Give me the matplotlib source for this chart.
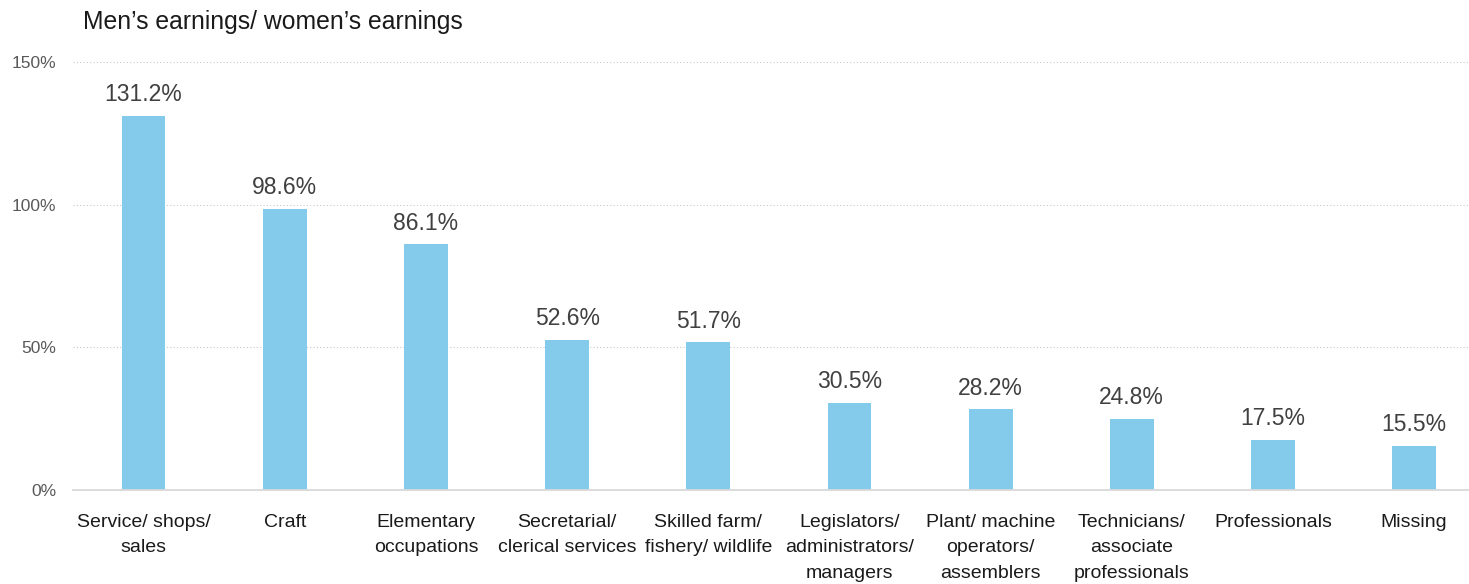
import matplotlib.pyplot as plt
import numpy as np
from matplotlib.ticker import MultipleLocator, FuncFormatter

categories = ["Service/ shops/\nsales", "Craft", "Elementary\noccupations",
              "Secretarial/\nclerical services", "Skilled farm/\nfishery/ wildlife",
              "Legislators/\nadministrators/\nmanagers", "Plant/ machine\noperators/\nassemblers",
              "Technicians/\nassociate\nprofessionals", "Professionals", "Missing"]
ratio = [131.2, 98.6, 86.1, 52.6, 51.7, 30.5, 28.2, 24.8, 17.5, 15.5]

plt.rcParams['font.family'] = ['Liberation Sans', 'DejaVu Sans']

fig = plt.figure(figsize=(14.69, 5.84), dpi=100)
ax = fig.add_axes([0.0497, 0.161, 0.961, 0.733])

x = np.arange(len(categories))
ax.bar(x, ratio, width=0.31, color='#84CBEB', zorder=2)

# value labels above each bar
for xi, v in zip(x, ratio):
    ax.annotate(f"{v:.1f}%", (xi, v), xytext=(0, 7), textcoords='offset points',
                ha='center', va='bottom', fontsize=16.5, color='#404040')

ax.set_xlim(-0.5, len(categories) - 0.5)
ax.set_ylim(0, 150)
ax.yaxis.set_major_locator(MultipleLocator(50))
ax.yaxis.set_major_formatter(FuncFormatter(lambda v, p: f"{v:.0f}%"))
ax.yaxis.grid(True, linestyle=(0, (1, 2)), color='#C8C8C8', linewidth=0.8, zorder=0)
ax.set_xticks(x)
ax.set_xticklabels(categories, fontsize=14, color='#1A1A1A', linespacing=1.68)
ax.tick_params(axis='x', length=0, pad=17)
ax.tick_params(axis='y', length=0, pad=12, labelsize=12.5, labelcolor='#595959')

for side in ['top', 'right', 'left']:
    ax.spines[side].set_visible(False)
ax.spines['bottom'].set_color('#D9D9D9')
ax.spines['bottom'].set_linewidth(1.3)

fig.text(0.0565, 0.962, "Men\u2019s earnings/ women\u2019s earnings", fontsize=17.8,
         color='#1A1A1A', va='center', ha='left')

plt.savefig("out.png", dpi=100)
